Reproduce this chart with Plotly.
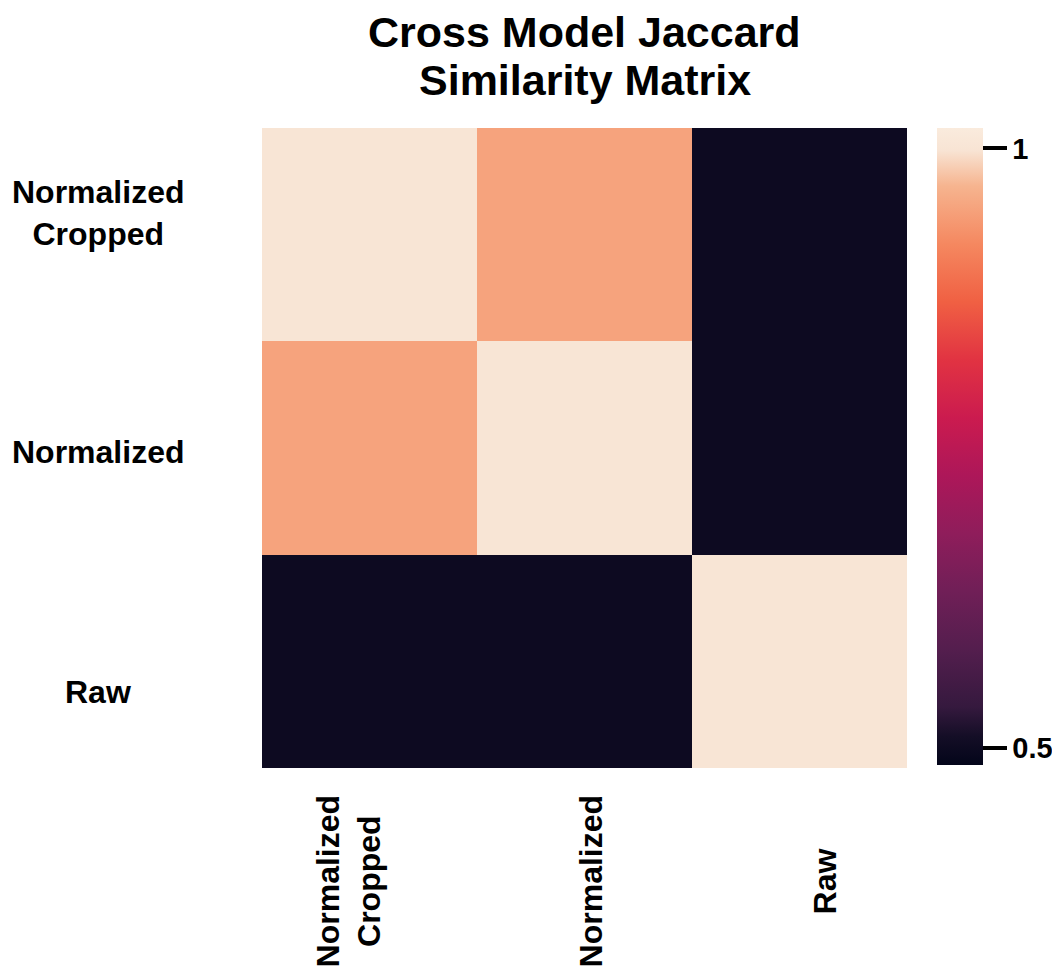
import plotly.graph_objects as go

categories = ["Normalized Cropped", "Normalized", "Raw"]
x_labels = ["Normalized<br>Cropped", "Normalized", "Raw"]
y_labels = ["Normalized<br>Cropped", "Normalized", "Raw"]
similarity = [
    [1.00, 0.95, 0.50],
    [0.95, 1.00, 0.50],
    [0.50, 0.50, 1.00],
]
cbar_ticks = [0.5, 1.0]
cbar_text = ["0.5", "1"]
title_lines = ["Cross Model Jaccard", "Similarity Matrix"]

rocket = [
    [0.000, "#03051a"], [0.045, "#140e26"], [0.091, "#35193e"],
    [0.182, "#541e4e"], [0.273, "#701f57"], [0.364, "#8f1d5b"],
    [0.455, "#ad1759"], [0.545, "#cb1b4f"], [0.636, "#e13342"],
    [0.727, "#f06043"], [0.818, "#f58860"], [0.909, "#f6b48f"],
    [0.965, "#f8e4d4"], [1.000, "#faebdd"],
]

FONT = "Liberation Sans, Arial, sans-serif"

fig = go.Figure(go.Heatmap(
    z=similarity, x=categories, y=categories,
    colorscale=rocket, zmin=0.486, zmax=1.017,
    xgap=0, ygap=0,
    colorbar=dict(
        x=1.0465, xanchor="left", xref="paper", xpad=0,
        y=1.0, yanchor="top", yref="paper", ypad=0,
        thickness=46, thicknessmode="pixels",
        len=637, lenmode="pixels",
        outlinewidth=0,
        tickvals=cbar_ticks, ticktext=cbar_text,
        ticks="outside", ticklen=24, tickwidth=4, tickcolor="black",
        tickfont=dict(family=FONT, size=29, color="black", weight="bold"),
    ),
))

fig.update_xaxes(showticklabels=False, showgrid=False, zeroline=False, ticks="")
fig.update_yaxes(showticklabels=False, showgrid=False, zeroline=False, ticks="",
                 autorange="reversed")

annots = []
y_shift = [22, -4, -31]
for cat, lab, ys in zip(categories, y_labels, y_shift):
    annots.append(dict(
        x=-0.254, xref="paper", xanchor="center",
        y=cat, yref="y", yanchor="middle", yshift=ys,
        text="<b>" + lab + "</b>", showarrow=False, align="center",
        font=dict(family=FONT, size=32, color="black"),
    ))
x_shift = [-21, 6, 25]
for cat, lab, xs in zip(categories, x_labels, x_shift):
    annots.append(dict(
        x=cat, xref="x", xanchor="center", xshift=xs,
        y=-0.178, yref="paper", yanchor="middle",
        text="<b>" + lab + "</b>", showarrow=False, align="center",
        textangle=-90,
        font=dict(family=FONT, size=32, color="black"),
    ))
for line, yp in zip(title_lines, [1.1500, 1.0750]):
    annots.append(dict(
        x=0.5, xref="paper", xanchor="center",
        y=yp, yref="paper", yanchor="middle",
        text="<b>" + line + "</b>", showarrow=False,
        font=dict(family=FONT, size=43, color="black"),
    ))

fig.update_layout(
    width=1044, height=960,
    margin=dict(l=254, r=145, t=120, b=200, autoexpand=False),
    paper_bgcolor="white", plot_bgcolor="white",
    annotations=annots,
)

fig.write_html("out.html")
